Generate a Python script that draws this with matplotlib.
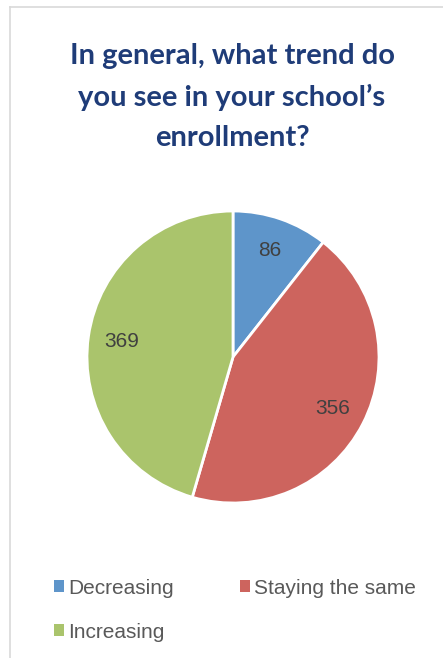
import matplotlib
matplotlib.use("Agg")
import matplotlib.pyplot as plt
from matplotlib.patches import Patch

categories = ["Decreasing", "Staying the same", "Increasing"]
values = [86, 356, 369]
colors = ["#5E95CA", "#CD645E", "#AAC46C"]
title = "In general, what trend do\nyou see in your school\u2019s\nenrollment?"

W, H = 443, 658
fig = plt.figure(figsize=(W / 100, H / 100), dpi=100)
fig.patch.set_facecolor("white")

# frame lines (top and left border of the chart area)
fig.add_artist(plt.Line2D([10 / W, 1], [1 - 7 / H, 1 - 7 / H], transform=fig.transFigure,
                          color="#D9D9D9", lw=1.2))
fig.add_artist(plt.Line2D([10 / W, 10 / W], [0, 1 - 7 / H], transform=fig.transFigure,
                          color="#D9D9D9", lw=1.2))

cx, cy, r = 233, 357, 146
ax = fig.add_axes([(cx - r) / W, (H - cy - r) / H, 2 * r / W, 2 * r / H])
total = sum(values)
wedges, texts, autotexts = ax.pie(
    values, colors=colors, startangle=90, counterclock=False,
    autopct=lambda p: f"{round(p * total / 100)}", pctdistance=0.77,
    wedgeprops=dict(edgecolor="white", linewidth=2),
    textprops=dict(color="#404040", fontsize=15, family="Liberation Sans"))
ax.set_xlim(-1, 1)
ax.set_ylim(-1, 1)
ax.set_aspect("equal")
ax.axis("off")

fig.text(232 / W, 1 - 97 / H, title, ha="center", va="center", fontsize=21,
         family="Lato", fontweight="bold", color="#1F3C78", linespacing=1.68)

# legend filled column-wise: put items so rows read Decreasing | Staying, Increasing
order = [0, 2, 1]
handles = [Patch(facecolor=colors[i], edgecolor="none") for i in order]
labels = [categories[i] for i in order]
leg = fig.legend(handles, labels, ncol=2, loc="center",
                 bbox_to_anchor=(235 / W, 1 - 610 / H), frameon=False,
                 prop=dict(family="Liberation Sans", size=15),
                 handlelength=0.45, handleheight=0.45, handletextpad=0.2,
                 columnspacing=3.2, labelspacing=1.2, labelcolor="#595959")

fig.savefig("out.png", dpi=100)
